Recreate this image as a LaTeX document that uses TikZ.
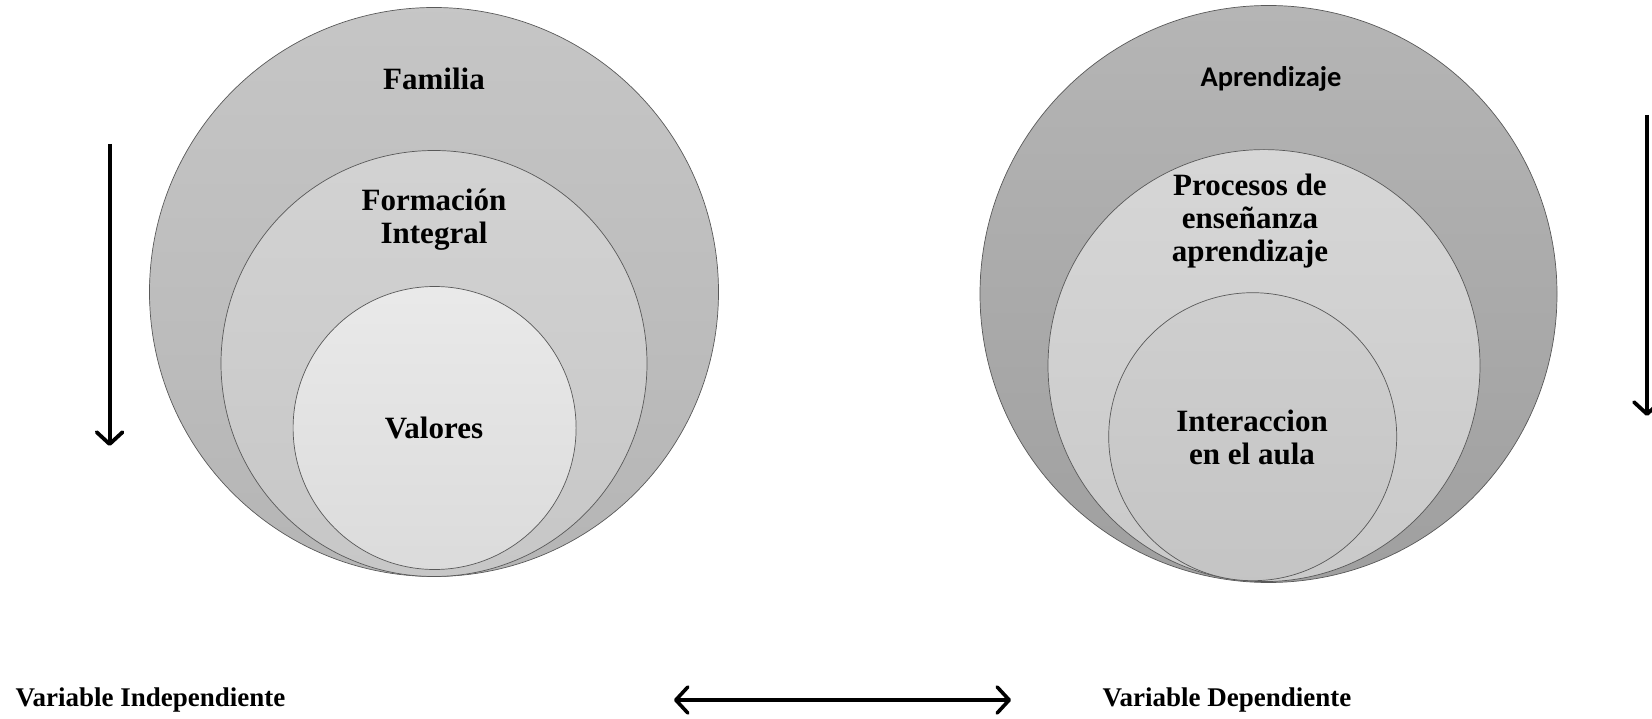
\documentclass[tikz,border=0pt]{standalone}
\usepackage{fontspec}
\setmainfont{Liberation Serif}
\newfontfamily\calibfont{Carlito}
\usetikzlibrary{arrows.meta}
\tikzset{
	ring/.style={circle, draw=black!65, line width=0.7pt, inner sep=0pt, minimum size=#1, shading=axis},
	ringtext/.style={align=center, font=\bfseries\fontsize{31}{33}\selectfont},
	vartext/.style={anchor=west, font=\bfseries\fontsize{27}{29}\selectfont},
	barb/.tip={Straight Barb[length=12pt,width=26pt,line cap=round,line join=round]},
	flecha/.style={line width=3.8pt, -barb},
	doble/.style={line width=3.6pt, barb-barb}
}
\begin{document}
\begin{tikzpicture}[x=1pt,y=-1pt]
	\useasboundingbox (0,0) rectangle (1652,719);
	% left side
	\node[ring=569pt, top color=gray!45, bottom color=gray!58] (familia) at (434,292) {};
	\node[ring=426pt, top color=gray!35, bottom color=gray!44] (formacion) at (434,363.5) {};
	\node[ring=283pt, top color=gray!17, bottom color=gray!28] (valores) at (434.6,428) {};
	\node[ringtext] (tfamilia) at (434,79) {Familia};
	\node[ringtext] (tformacion) at (434,220) {Formación\\Integral};
	\node[ringtext] (tvalores) at (434,428) {Valores};
	% right side
	\node[ring=577pt, top color=gray!58, bottom color=gray!75] (aprendizaje) at (1268.5,294) {};
	\node[ring=432pt, top color=gray!32, bottom color=gray!42] (procesos) at (1264,365.6) {};
	\node[ring=288pt, top color=gray!38, bottom color=gray!46] (interaccion) at (1252.7,436.7) {};
	\node[font=\calibfont\bfseries\fontsize{28.5}{30}\selectfont] (taprendizaje) at (1271,79) {Aprendizaje};
	\node[ringtext] (tprocesos) at (1250,221) {Procesos de\\enseñanza\\aprendizaje};
	\node[ringtext] (tinteraccion) at (1252,437) {Interaccion\\en el aula};
	% arrows
	\coordinate (izqA) at (109.6,144);
	\coordinate (izqB) at (109.6,446);
	\coordinate (derA) at (1647,115);
	\coordinate (derB) at (1647,416);
	\coordinate (medA) at (674,700);
	\coordinate (medB) at (1011,700);
	\draw[flecha] (izqA) -- (izqB);
	\draw[flecha] (derA) -- (derB);
	\draw[doble] (medA) -- (medB);
	% variables
	\node[vartext] (vindep) at (12,700) {Variable Independiente};
	\node[vartext] (vdep) at (1099,700) {Variable Dependiente};
\end{tikzpicture}
\end{document}
